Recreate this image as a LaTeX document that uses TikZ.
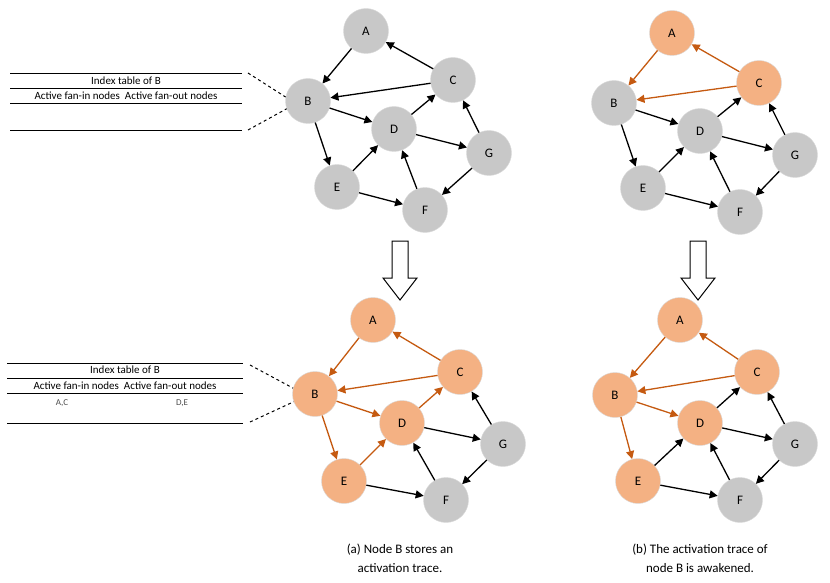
\documentclass[tikz,border=0pt]{standalone}
\usepackage{fontspec}
\setmainfont{Carlito}
\usetikzlibrary{arrows.meta}
\definecolor{nor}{HTML}{F4B183}
\definecolor{eor}{HTML}{C55A11}
\definecolor{ngr}{HTML}{C8C8C8}
\tikzset{
  nd/.style={circle,minimum size=45pt,inner sep=0pt,draw=white!85!black,fill=ngr,font=\fontsize{13}{14}\selectfont},
  on/.style={nd,fill=nor},
  ed/.style={-{Triangle[length=8pt,width=8pt]},line width=1.3pt,black},
  oe/.style={ed,eor},
  tl/.style={line width=0.8pt},
  tt/.style={font=\fontsize{11}{12}\selectfont},
  hollow/.style={draw,line width=1pt,fill=white}
}
\newcommand{\graphnet}[8]{%
% #1 shift x, #2 shift y, #3 prefix, #4..: node styles A..G as string list handled below
}
\begin{document}
\begin{tikzpicture}[x=1pt,y=-1pt]
\useasboundingbox (0,0) rectangle (830,583);
% ---------- top-left
\node[nd] (a1) at (366,31) {A};
\node[nd] (b1) at (308,101) {B};
\node[nd] (c1) at (453,80) {C};
\node[nd] (d1) at (394,129) {D};
\node[nd] (e1) at (337,187) {E};
\node[nd] (f1) at (425,210) {F};
\node[nd] (g1) at (489,153) {G};
\draw[ed] (a1)--(b1); \draw[ed] (c1)--(a1); \draw[ed] (c1)--(b1);
\draw[ed] (b1)--(d1); \draw[ed] (b1)--(e1); \draw[ed] (e1)--(d1);
\draw[ed] (d1)--(c1); \draw[ed] (d1)--(g1); \draw[ed] (g1)--(c1);
\draw[ed] (f1)--(d1); \draw[ed] (g1)--(f1); \draw[ed] (e1)--(f1);
% ---------- top-right
\node[on] (a2) at (672,33) {A};
\node[nd] (b2) at (614,103) {B};
\node[on] (c2) at (759,83) {C};
\node[nd] (d2) at (700,131) {D};
\node[nd] (e2) at (643,188) {E};
\node[nd] (f2) at (740,212) {F};
\node[nd] (g2) at (795,155) {G};
\draw[oe] (a2)--(b2); \draw[oe] (c2)--(a2); \draw[oe] (c2)--(b2);
\draw[ed] (b2)--(d2); \draw[ed] (b2)--(e2); \draw[ed] (e2)--(d2);
\draw[ed] (d2)--(c2); \draw[ed] (d2)--(g2); \draw[ed] (g2)--(c2);
\draw[ed] (f2)--(d2); \draw[ed] (g2)--(f2); \draw[ed] (e2)--(f2);
% ---------- bottom-left
\node[on] (a3) at (373,320) {A};
\node[on] (b3) at (315,394) {B};
\node[on] (c3) at (460,372) {C};
\node[on] (d3) at (402,423) {D};
\node[on] (e3) at (344,481) {E};
\node[nd] (f3) at (446,500) {F};
\node[nd] (g3) at (503,444) {G};
\draw[oe] (a3)--(b3); \draw[oe] (c3)--(a3); \draw[oe] (c3)--(b3);
\draw[oe] (b3)--(d3); \draw[oe] (b3)--(e3); \draw[oe] (e3)--(d3);
\draw[oe] (d3)--(c3); \draw[ed] (d3)--(g3); \draw[ed] (g3)--(c3);
\draw[ed] (f3)--(d3); \draw[ed] (g3)--(f3); \draw[ed] (e3)--(f3);
% ---------- bottom-right
\node[on] (a4) at (680,320) {A};
\node[on] (b4) at (615,395) {B};
\node[on] (c4) at (757,372) {C};
\node[on] (d4) at (700,423) {D};
\node[on] (e4) at (638,481) {E};
\node[nd] (f4) at (740,500) {F};
\node[nd] (g4) at (795,444) {G};
\draw[oe] (a4)--(b4); \draw[oe] (c4)--(a4); \draw[oe] (c4)--(b4);
\draw[oe] (b4)--(d4); \draw[oe] (b4)--(e4); \draw[ed] (e4)--(d4);
\draw[ed] (d4)--(c4); \draw[ed] (d4)--(g4); \draw[ed] (g4)--(c4);
\draw[ed] (f4)--(d4); \draw[ed] (g4)--(f4); \draw[ed] (e4)--(f4);
% ---------- tables
\draw[tl] (10,73)--(242,73); \draw[tl] (10,88)--(242,88);
\draw[tl] (10,103)--(242,103); \draw[tl] (10,130)--(242,130);
\node[tt] (t1) at (126,80.5) {Index table of B};
\node[tt] (t2) at (126,96) {Active fan-in nodes\ \ Active fan-out nodes};
\coordinate (p1) at (248,73); \coordinate (p2) at (248,130);
\draw[dashed,line width=1pt] (p1)--(b1.170); \draw[dashed,line width=1pt] (p2)--(b1.200);
\draw[tl] (7,363)--(243,363); \draw[tl] (7,378)--(243,378);
\draw[tl] (7,393)--(243,393); \draw[tl] (7,423)--(243,423);
\node[tt] (t3) at (125,370) {Index table of B};
\node[tt] (t4) at (125,386) {Active fan-in nodes\ \ Active fan-out nodes};
\node[font=\fontsize{9}{10}\selectfont,text=black!70] (t5) at (62,403) {A,C};
\node[font=\fontsize{9}{10}\selectfont,text=black!70] (t6) at (182,403) {D,E};
\coordinate (p3) at (250,365); \coordinate (p4) at (250,422);
\draw[dashed,line width=1pt] (p3)--(b3.165); \draw[dashed,line width=1pt] (p4)--(b3.200);
% ---------- hollow arrows
\draw[hollow] (392,241)--(408,241)--(408,278)--(417,278)--(400,300)--(383,278)--(392,278)--cycle;
\draw[hollow] (690,241)--(706,241)--(706,278)--(715,278)--(698,300)--(681,278)--(690,278)--cycle;
% ---------- captions
\node[align=center,font=\fontsize{13}{19}\selectfont] (cap1) at (400,558) {(a) Node B stores an\\activation trace.};
\node[align=center,font=\fontsize{13}{19}\selectfont] (cap2) at (700,558) {(b) The activation trace of\\node B is awakened.};
\end{tikzpicture}
\end{document}
